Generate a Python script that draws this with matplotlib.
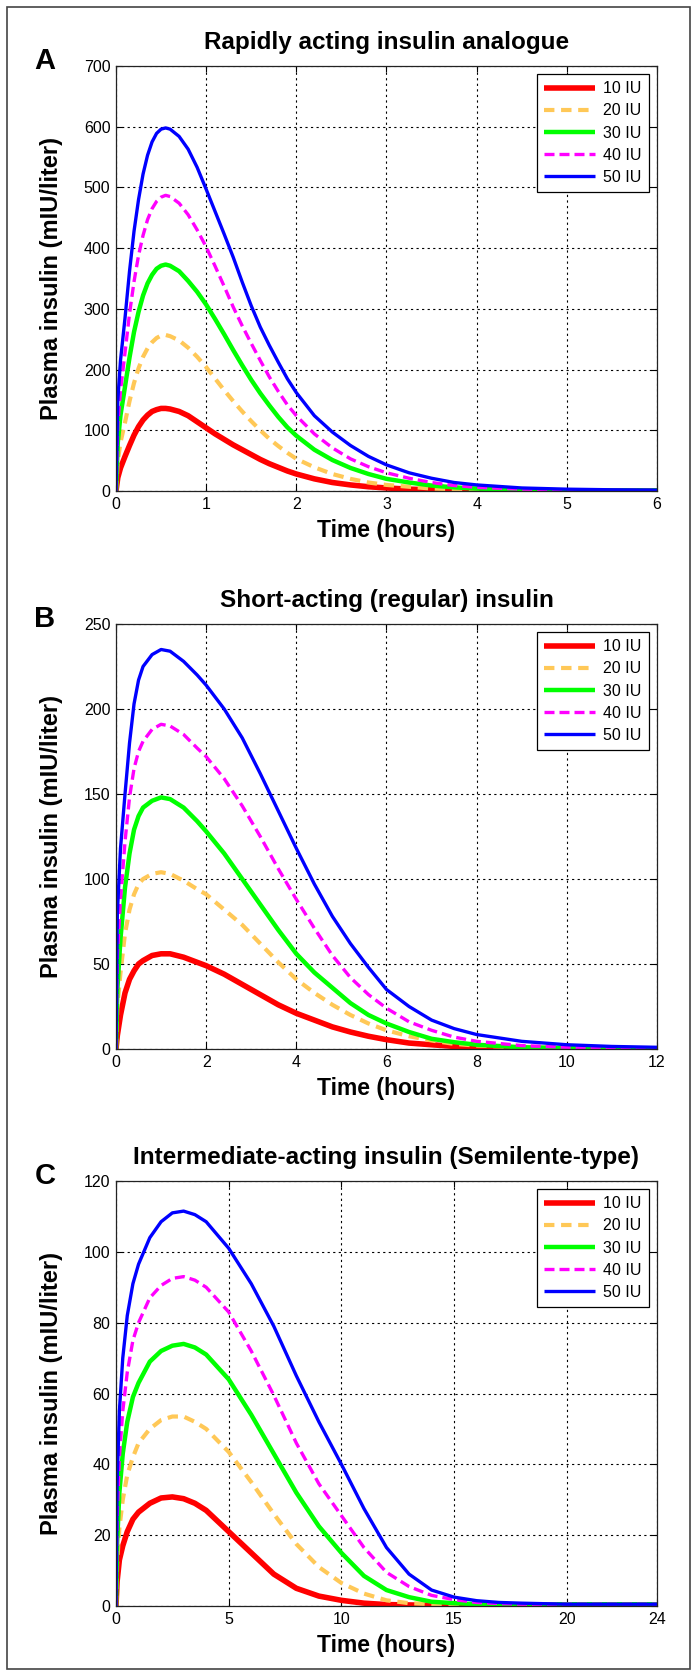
"""
Plasma insulin curves for three insulin types, doses 10-50 IU.
"""

import matplotlib
matplotlib.use("Agg")
import matplotlib.pyplot as plt
from matplotlib import font_manager
from matplotlib.patches import Rectangle

# ---- panel A: rapidly acting analogue (0..6 h) ----
t_a = [0, 0.02, 0.05, 0.1, 0.15, 0.2, 0.25, 0.3, 0.35, 0.4, 0.45, 0.5, 0.55,
       0.6, 0.7, 0.8, 0.9, 1.0, 1.1, 1.2, 1.3, 1.4, 1.5, 1.6, 1.7, 1.8, 1.9,
       2.0, 2.2, 2.4, 2.6, 2.8, 3.0, 3.25, 3.5, 3.75, 4.0, 4.5, 5.0, 5.5, 6.0]
a_10 = [0, 22, 38, 57, 75, 92, 106, 117, 125, 131, 134, 136, 136,
        135, 131, 124, 114, 104, 94, 85, 76, 68, 60, 52, 45, 39, 33,
        28, 20, 14, 10, 7, 5, 3, 2, 1, 1, 0.5, 0, 0, 0]
a_20 = [0, 50, 80, 113, 148, 178, 202, 221, 235, 245, 252, 256, 257,
        255, 248, 236, 221, 204, 185, 166, 148, 131, 115, 100, 86, 74, 63,
        53, 39, 28, 20, 14, 10, 7, 4, 3, 2, 1, 0.5, 0, 0]
a_30 = [0, 80, 125, 172, 220, 262, 295, 322, 342, 356, 366, 371, 373,
        371, 362, 346, 328, 307, 283, 258, 232, 207, 183, 161, 141, 122, 105,
        91, 68, 51, 38, 28, 20, 14, 9, 6, 4, 2, 1, 1, 1]
a_40 = [0, 110, 165, 228, 292, 345, 388, 421, 447, 465, 477, 484, 487,
        485, 474, 455, 430, 402, 370, 337, 303, 272, 243, 215, 188, 164, 142,
        124, 94, 71, 53, 40, 30, 21, 14, 9, 6, 3, 2, 1, 1]
a_50 = [0, 150, 215, 285, 362, 428, 480, 522, 553, 575, 589, 596, 598,
        596, 584, 563, 533, 497, 460, 423, 385, 344, 305, 270, 240, 212, 185,
        162, 124, 97, 75, 57, 43, 30, 21, 14, 10, 5, 3, 2, 1.5]

# ---- panel B: short-acting regular insulin (0..12 h) ----
t_b = [0, 0.03, 0.1, 0.2, 0.3, 0.4, 0.5, 0.6, 0.8, 1.0, 1.2, 1.5, 1.8, 2.0,
       2.4, 2.8, 3.2, 3.6, 4.0, 4.4, 4.8, 5.2, 5.6, 6.0, 6.5, 7.0, 7.5, 8.0,
       9.0, 10, 11, 12]
b_10 = [0, 8, 20, 33, 41, 46, 50, 52, 55, 56, 56, 54, 51, 49,
        44, 38, 32, 26, 21, 17, 13, 10, 7.5, 5.5, 3.5, 2.5, 1.5, 1,
        0.5, 0, 0, 0]
b_20 = [0, 25, 45, 68, 82, 91, 97, 100, 103, 104, 103, 99, 94, 91,
        82, 73, 62, 51, 41, 33, 26, 20, 15, 11, 7.5, 5, 3, 2,
        1, 0.5, 0, 0]
b_30 = [0, 35, 65, 95, 115, 129, 137, 142, 146, 148, 147, 142, 134, 128,
        115, 100, 85, 70, 56, 45, 36, 27, 20, 15, 10, 6, 4, 2.5,
        1, 0.5, 0, 0]
b_40 = [0, 55, 88, 122, 148, 165, 175, 181, 188, 191, 190, 185, 177, 172,
        159, 143, 125, 106, 88, 71, 55, 42, 32, 24, 16, 11, 7, 4.5,
        2, 1, 0.5, 0.5]
b_50 = [0, 80, 118, 150, 180, 203, 217, 225, 232, 235, 234, 228, 220, 214,
        200, 183, 162, 140, 118, 97, 78, 62, 48, 35, 25, 17, 12, 8.5,
        4.5, 2.5, 1.5, 1]

# ---- panel C: intermediate-acting Semilente (0..24 h) ----
t_c = [0, 0.05, 0.15, 0.3, 0.5, 0.75, 1.0, 1.5, 2.0, 2.5, 3.0, 3.5, 4.0,
       5.0, 6.0, 7.0, 8.0, 9.0, 10, 11, 12, 13, 14, 15, 16, 17, 18, 20, 22, 24]
c_10 = [0, 7, 13, 17, 21, 24.5, 26.5, 29, 30.5, 30.8, 30.3, 29, 27,
        21, 15, 9, 5, 2.8, 1.6, 0.8, 0.4, 0.3, 0.2, 0.2, 0.2, 0.2, 0.2, 0.2, 0.2, 0.2]
c_20 = [0, 12, 22, 30, 37, 42, 46, 50, 52.5, 53.5, 53.5, 52, 50,
        43.5, 35, 26, 17.5, 11, 6.5, 3.5, 1.6, 0.8, 0.5, 0.5, 0.5, 0.5, 0.5, 0.5, 0.5, 0.5]
c_30 = [0, 18, 32, 43, 52, 59, 63, 69, 72, 73.5, 74, 73, 71,
        64, 54, 43, 32, 22.5, 15, 8.5, 4.5, 2.5, 1.2, 0.8, 0.5, 0.5, 0.5, 0.5, 0.5, 0.5]
c_40 = [0, 25, 42, 55, 66, 75, 80, 87, 90.5, 92.5, 93, 92, 90,
        83, 72, 59.5, 46, 34.5, 25.5, 16.5, 9.5, 5.5, 3, 1.8, 1, 0.7, 0.5, 0.5, 0.5, 0.5]
c_50 = [0, 35, 55, 70, 82, 91, 96.5, 104, 108.5, 111, 111.5, 110.5, 108.5,
        101, 91, 79, 65, 52, 40, 27.5, 16.5, 9, 4.5, 2.5, 1.5, 1, 0.8, 0.5, 0.5, 0.5]

doses = ["10 IU", "20 IU", "30 IU", "40 IU", "50 IU"]
colors = ["#ff0000", "#ffc857", "#00ff00", "#ff00ff", "#0000ff"]
styles = ["-", (0, (2.5, 1.6)), "-", (0, (3.0, 1.5)), "-"]
widths = [4.0, 3.0, 3.2, 2.4, 2.4]

panels = [
    ("A", "Rapidly acting insulin analogue", t_a, [a_10, a_20, a_30, a_40, a_50],
     6, 700, list(range(0, 7)), list(range(0, 701, 100))),
    ("B", "Short-acting (regular) insulin", t_b, [b_10, b_20, b_30, b_40, b_50],
     12, 250, list(range(0, 13, 2)), list(range(0, 251, 50))),
    ("C", "Intermediate-acting insulin (Semilente-type)", t_c, [c_10, c_20, c_30, c_40, c_50],
     24, 120, [0, 5, 10, 15, 20, 24], list(range(0, 121, 20))),
]

W, H = 697, 1676
fig = plt.figure(figsize=(W / 100, H / 100), dpi=100)
fig.patch.set_facecolor("white")

installed = {f.name for f in font_manager.fontManager.ttflist}
if "Liberation Sans Narrow" in installed:
    narrow, tick_size = ["Liberation Sans Narrow", "DejaVu Sans"], 12.5
else:
    narrow, tick_size = ["Liberation Sans", "DejaVu Sans"], 11.5
bold_font = ["Liberation Sans", "DejaVu Sans"]

ax_left, ax_right = 116, 657
tops = [66, 624, 1181]
ax_h = 425

for (letter, title, t, series, xmax, ymax, xticks, yticks), top in zip(panels, tops):
    bottom = top + ax_h
    ax = fig.add_axes([ax_left / W, 1 - bottom / H, (ax_right - ax_left) / W, ax_h / H])

    for vals, lab, c, ls, lw in zip(series, doses, colors, styles, widths):
        ax.plot(t, vals, color=c, linestyle=ls, linewidth=lw, label=lab,
                solid_capstyle="butt", dash_capstyle="butt", solid_joinstyle="round")

    ax.set_xlim(0, xmax)
    ax.set_ylim(0, ymax)
    ax.set_xticks(xticks)
    ax.set_yticks(yticks)
    ax.grid(True, color="k", linestyle=(0, (2, 3)), linewidth=0.8)
    ax.set_axisbelow(True)
    ax.tick_params(direction="in", length=4, width=0.8, top=True, right=True,
                   labelsize=tick_size, pad=4)
    for lbl in ax.get_xticklabels() + ax.get_yticklabels():
        lbl.set_family(narrow)
    for sp in ax.spines.values():
        sp.set_linewidth(0.9)
        sp.set_color("#222222")

    ax.set_title(title, fontsize=17.5, fontweight="bold", family=bold_font, pad=12)
    ax.set_xlabel("Time (hours)", fontsize=16.5, fontweight="bold", family=bold_font)
    ax.set_ylabel("Plasma insulin (mIU/liter)", fontsize=17, fontweight="bold",
                  family=bold_font)
    ax.xaxis.label.set_va("center")
    ax.yaxis.label.set_va("center")
    ax.xaxis.set_label_coords(0.5, -39 / ax_h)
    ax.yaxis.set_label_coords((52 - ax_left) / (ax_right - ax_left), 0.5)

    leg = ax.legend(loc="upper right", prop={"family": narrow, "size": tick_size},
                    frameon=True, fancybox=False, framealpha=1, edgecolor="k",
                    handlelength=3.2, handletextpad=0.5, labelspacing=0.45,
                    borderpad=0.45, borderaxespad=0.5)
    leg.get_frame().set_linewidth(0.9)

    fig.text(45 / W, 1 - (top - 5) / H, letter, ha="center", va="center",
             fontsize=21, fontweight="bold", family=bold_font)

# outer frame around the whole figure
fig.patches.append(Rectangle((7 / W, 7 / H), 1 - 14 / W, 1 - 14 / H,
                             transform=fig.transFigure, fill=False,
                             edgecolor="#444444", linewidth=1.2))

fig.savefig("out.png", dpi=100)
